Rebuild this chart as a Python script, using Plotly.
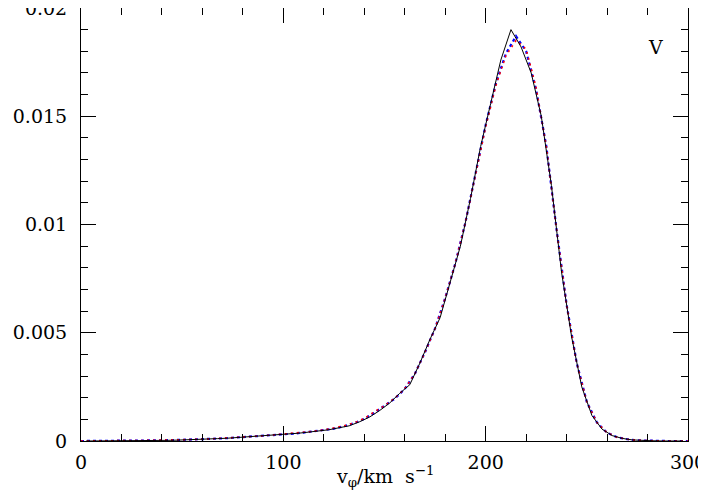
import plotly.graph_objects as go

# black solid curve, bins centred at 2.5, 7.5, ... 297.5 km/s
v_black = [2.5 + 5 * i for i in range(60)]
f_black = [
    0.0, 0.0, 0.00001, 0.00001, 0.00001, 0.00002, 0.00002, 0.00003, 0.00003, 0.00004,
    0.00005, 0.00007, 0.00009, 0.00011, 0.00013, 0.00016, 0.00019, 0.00022, 0.00025, 0.00028,
    0.00032, 0.00036, 0.00041, 0.00046, 0.00052, 0.00061, 0.0007, 0.00088, 0.0011, 0.0014,
    0.00175, 0.0022, 0.0026, 0.0036, 0.0047, 0.0057, 0.0074, 0.009, 0.0112, 0.0136,
    0.0156, 0.0176, 0.019, 0.0182, 0.017, 0.015, 0.0118, 0.0078, 0.0048, 0.0025,
    0.00118, 0.00055, 0.00025, 0.00012, 0.00005, 0.00002, 0.00001, 0.0, 0.0, 0.0,
]

# dotted curves, sampled at 0, 5, ... 300 km/s
v_dot = [5 * i for i in range(61)]
f_blue = [
    0.0, 0.0, 0.00001, 0.00001, 0.00001, 0.00002, 0.00002, 0.00003, 0.00003, 0.00004,
    0.00005, 0.00006, 0.00008, 0.0001, 0.00012, 0.00015, 0.00018, 0.0002, 0.00024, 0.00027,
    0.0003, 0.00034, 0.00039, 0.00044, 0.0005, 0.00057, 0.00068, 0.00082, 0.00102, 0.0013,
    0.00163, 0.00195, 0.0024, 0.0031, 0.0041, 0.0052, 0.0066, 0.0082, 0.0101, 0.0123,
    0.0146, 0.0165, 0.0179, 0.0187, 0.018, 0.0162, 0.0136, 0.0098, 0.0063, 0.0036,
    0.0018, 0.00085, 0.00038, 0.00017, 0.00008, 0.00003, 0.00001, 0.0, 0.0, 0.0, 0.0,
]
f_red = [
    0.0, 0.0, 0.00001, 0.00001, 0.00001, 0.00002, 0.00002, 0.00003, 0.00004, 0.00004,
    0.00005, 0.00007, 0.00008, 0.0001, 0.00013, 0.00015, 0.00018, 0.00021, 0.00024, 0.00028,
    0.00031, 0.00035, 0.0004, 0.00045, 0.00051, 0.00059, 0.0007, 0.00084, 0.00104, 0.00135,
    0.00163, 0.00197, 0.00242, 0.0031, 0.0041, 0.0052, 0.0066, 0.0082, 0.0101, 0.0123,
    0.0145, 0.0164, 0.0178, 0.0185, 0.0181, 0.0163, 0.0136, 0.0098, 0.0063, 0.0036,
    0.0018, 0.00085, 0.00038, 0.00017, 0.00008, 0.00003, 0.00001, 0.0, 0.0, 0.0, 0.0,
]

x_ticks = [0, 100, 200, 300]
y_ticks = [0, 0.005, 0.01, 0.015, 0.02]
y_ticktext = ['0', '0.005', '0.01', '0.015', '0.02']

label_font = dict(family='DejaVu Serif', size=19, color='black')

fig = go.Figure()
fig.add_trace(go.Scatter(x=v_dot, y=f_blue, mode='lines',
                         line=dict(color='blue', width=2.2, dash='3px,3px')))
fig.add_trace(go.Scatter(x=v_dot, y=f_red, mode='lines',
                         line=dict(color='red', width=1.6, dash='2px,4px')))
fig.add_trace(go.Scatter(x=v_black, y=f_black, mode='lines',
                         line=dict(color='black', width=1)))

axis_common = dict(
    showgrid=False, zeroline=False, showline=True, linecolor='black', linewidth=1,
    mirror='allticks', ticks='inside', tickcolor='black', tickwidth=1, ticklen=15,
    tickfont=label_font, automargin=False, ticklabeloverflow='allow',
)

fig.update_xaxes(
    range=[0, 300], tickvals=x_ticks, ticklabelstandoff=4,
    minor=dict(dtick=20, ticks='inside', ticklen=7, tickcolor='black', tickwidth=1),
    **axis_common,
)
fig.update_yaxes(
    range=[0, 0.02], tickvals=y_ticks, ticktext=y_ticktext, ticklabelstandoff=9,
    minor=dict(dtick=0.001, ticks='inside', ticklen=7, tickcolor='black', tickwidth=1),
    **axis_common,
)

fig.add_annotation(x=0.5, y=-0.082, xref='paper', yref='paper', yanchor='middle',
                   text='v<sub>φ</sub>/km  s<sup>−1</sup>', showarrow=False,
                   font=label_font)
fig.add_annotation(x=284, y=0.0182, text='V', showarrow=False, font=label_font)

# page body adds an 8px offset, so the figure is sized to fit inside it
fig.update_layout(
    width=698, height=484,
    margin=dict(l=73, r=18, t=0, b=51),
    paper_bgcolor='white', plot_bgcolor='white',
    showlegend=False,
)

fig.write_html("out.html")
